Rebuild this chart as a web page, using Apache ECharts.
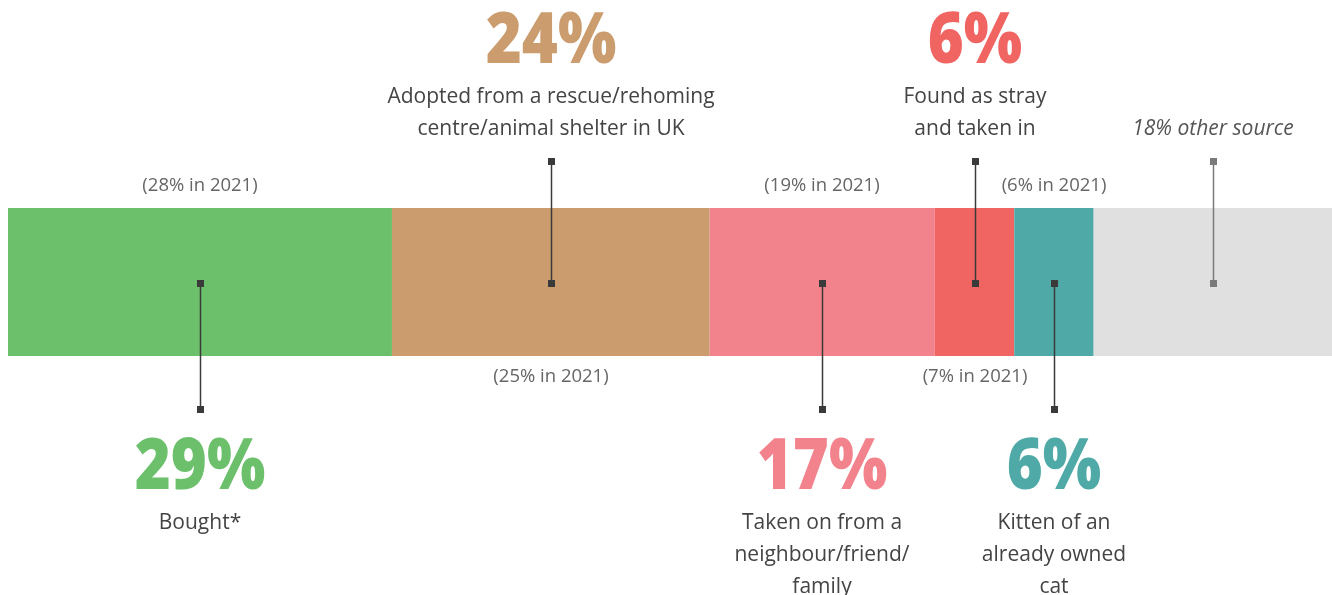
<!DOCTYPE html>
<html>
<head>
<meta charset="utf-8">
<script src="https://cdn.jsdelivr.net/npm/echarts@6/dist/echarts.min.js"></script>
<style>
  html, body { margin: 0; padding: 0; background: #fff; }
  #main { width: 1332px; height: 595px; }
</style>
</head>
<body>
<div id="main"></div>
<script>
// where cats come from (share of owners, %)
var sources = ['Bought*', 'Adopted from a rescue/rehoming\ncentre/animal shelter in UK',
  'Taken on from a\nneighbour/friend/\nfamily', 'Found as stray\nand taken in',
  'Kitten of an\nalready owned\ncat', 'other source'];
var share2023 = [29, 24, 17, 6, 6, 18];
var share2021 = [28, 25, 19, 7, 6, null];
var side = ['below', 'above', 'below', 'above', 'below', 'above']; // where the big label sits
var colors = ['#6cc06c', '#cb9c6d', '#f2828c', '#f06462', '#4fa9a6', '#e0e0e0'];

var myChart = echarts.init(document.getElementById('main'));
var font = '"Open Sans", "DejaVu Sans", sans-serif';

var series = [];
for (var i = 0; i < share2023.length; i++) {
  series.push({
    name: sources[i],
    type: 'bar',
    stack: 'all',
    barWidth: 148,
    silent: true,
    itemStyle: { color: colors[i] },
    data: [share2023[i]]
  });
}

var option = {
  animation: false,
  grid: { left: 8, right: 0, top: 208, height: 148 },
  xAxis: { type: 'value', min: 0, max: 100, show: false },
  yAxis: { type: 'category', data: ['cats'], show: false },
  series: series
};
myChart.setOption(option);

// annotations, placed at segment midpoints
var graphics = [];
var barMid = 283;
var acc = 0;
for (var i = 0; i < share2023.length; i++) {
  var mid = acc + share2023[i] / 2;
  acc += share2023[i];
  var x = Math.round(myChart.convertToPixel({ gridIndex: 0 }, [mid, 0])[0]);
  var up = side[i] === 'above';
  var other = i === share2023.length - 1;
  var lc = other ? '#7a7a7a' : '#3a3a3a';
  var y1 = up ? 161 : barMid;
  var y2 = up ? barMid : 409;
  graphics.push({ type: 'line', z: 100, shape: { x1: x + 0.5, y1: y1, x2: x + 0.5, y2: y2 }, style: { stroke: lc, lineWidth: 1.5 } });
  graphics.push({ type: 'rect', z: 101, shape: { x: x - 3, y: y1 - 3, width: 7, height: 7 }, style: { fill: lc } });
  graphics.push({ type: 'rect', z: 101, shape: { x: x - 3, y: y2 - 3, width: 7, height: 7 }, style: { fill: lc } });

  if (other) {
    graphics.push({ type: 'text', z: 100, style: { text: share2023[i] + '% ' + sources[i], x: x, y: 129,
      align: 'center', verticalAlign: 'middle', fill: '#555', font: 'italic 21px ' + font } });
    continue;
  }
  graphics.push({ type: 'text', z: 100, x: x, y: up ? 43 : 469, scaleX: 0.88,
    style: { text: share2023[i] + '%', x: 0, y: 0,
    align: 'center', verticalAlign: 'middle', fill: colors[i], font: '800 70px ' + font } });
  graphics.push({ type: 'text', z: 100, style: { text: sources[i], x: x, y: up ? 81 : 507,
    align: 'center', verticalAlign: 'top', lineHeight: 32, fill: '#444', font: '21px ' + font } });
  if (share2021[i] != null) {
    graphics.push({ type: 'text', z: 100, style: { text: '(' + share2021[i] + '% in 2021)', x: x, y: up ? 377 : 186,
      align: 'center', verticalAlign: 'middle', fill: '#666', font: '18.5px ' + font } });
  }
}
myChart.setOption({ graphic: graphics });
</script>
</body>
</html>
